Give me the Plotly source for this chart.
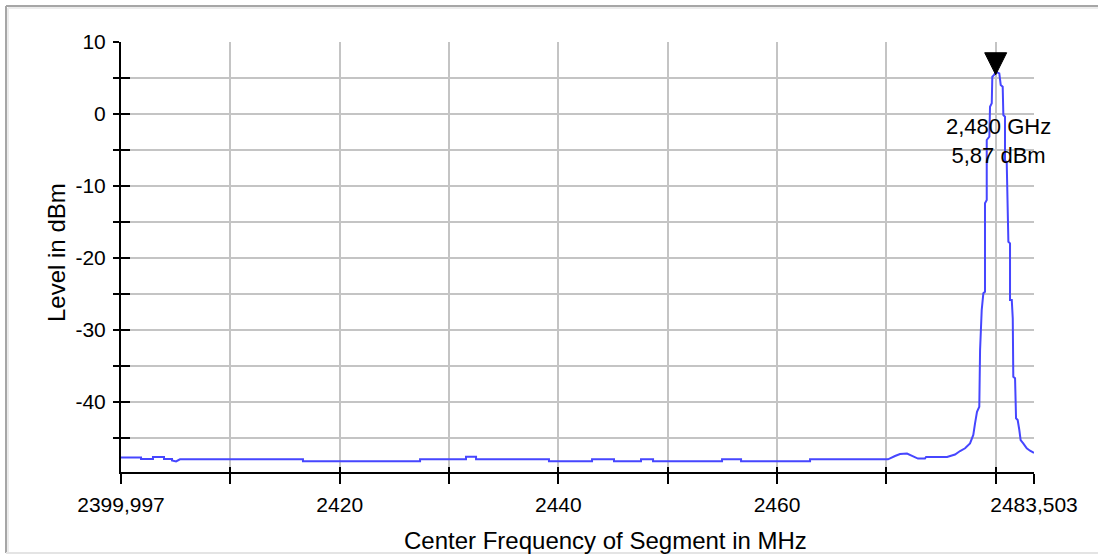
import plotly.graph_objects as go

# ---------------- data ----------------
freq_mhz = [
    2399.997, 2401.83, 2401.83, 2402.92, 2402.92, 2403.93, 2403.93, 2404.66, 2404.66, 2405.03,
    2405.39, 2416.64, 2416.64, 2427.35, 2427.35, 2431.55, 2431.55, 2432.47, 2432.47, 2439.14,
    2439.14, 2443.08, 2443.08, 2445.09, 2445.09, 2447.56, 2447.56, 2448.66, 2448.66, 2454.97,
    2454.97, 2456.71, 2456.71, 2463.02, 2463.02, 2470.15, 2470.79, 2471.25, 2471.89, 2472.35,
    2472.89, 2473.53, 2473.63, 2475.55, 2476.28, 2476.74, 2477.20, 2477.65, 2477.95, 2478.11,
    2478.29, 2478.50, 2478.57, 2478.72, 2478.87, 2479.02, 2479.02, 2479.18, 2479.18, 2479.42,
    2479.48, 2479.64, 2479.69, 2479.85, 2480.00, 2480.33, 2480.46, 2480.64, 2480.70, 2480.85,
    2480.85, 2481.01, 2481.16, 2481.31, 2481.31, 2481.47, 2481.56, 2481.61, 2481.77, 2481.86,
    2482.01, 2482.16, 2482.28, 2482.52, 2482.84, 2483.14, 2483.503,
]
level_dbm = [
    -47.71, -47.71, -47.92, -47.92, -47.64, -47.64, -47.92, -47.92, -48.13, -48.26,
    -47.96, -47.96, -48.24, -48.24, -47.96, -47.96, -47.60, -47.60, -47.96, -47.96,
    -48.24, -48.24, -47.96, -47.96, -48.24, -48.24, -47.96, -47.96, -48.24, -48.24,
    -47.96, -47.96, -48.24, -48.24, -47.96, -47.96, -47.50, -47.22, -47.15, -47.43,
    -47.85, -47.85, -47.64, -47.64, -47.29, -46.81, -46.43, -45.74, -44.58, -42.96,
    -41.35, -40.65, -32.78, -27.22, -24.90, -24.68, -12.40, -11.94, -3.61, -3.15,
    1.01, 1.49, 5.18, 5.42, 5.87, 5.65, 4.03, 3.79, -0.14, -0.38,
    -6.39, -6.85, -17.74, -17.96, -25.83, -25.83, -28.38, -36.49, -36.71, -42.26,
    -42.50, -43.89, -45.28, -45.74, -46.43, -46.76, -47.08,
]

marker_freq_mhz = 2480.0
marker_level_dbm = 5.87

x_range = [2399.997, 2483.503]
y_range = [-49.72, 10]

x_tick_vals = [2399.997, 2410, 2420, 2430, 2440, 2450, 2460, 2470, 2480, 2483.503]
x_tick_text = ["2399,997", "", "2420", "", "2440", "", "2460", "", "", "2483,503"]
y_tick_vals = [10, 5, 0, -5, -10, -15, -20, -25, -30, -35, -40, -45]
y_tick_text = ["10", "", "0", "", "-10", "", "-20", "", "-30", "", "-40", ""]

x_title = "Center Frequency of Segment in MHz"
y_title = "Level in dBm"
marker_text = "{} GHz<br>{} dBm".format(
    f"{marker_freq_mhz / 1000:.3f}".replace(".", ","),
    f"{marker_level_dbm:.2f}".replace(".", ","),
)

# ---------------- layout geometry ----------------
W, H = 1098, 554
ML, MR, MT, MB = 121, 64, 42, 82
PW, PH = W - ML - MR, H - MT - MB


def pxx(px):
    return (px - ML) / PW


def pxy(py):
    return 1 - (py - MT) / PH


FONT = "Liberation Sans, Arial, sans-serif"
FS_TICK = 21
FS_TITLE = 24
FS_LABEL = 22

fig = go.Figure()
fig.add_trace(go.Scatter(
    x=freq_mhz, y=level_dbm, mode="lines",
    line=dict(color="#4646ff", width=2),
    hoverinfo="x+y", showlegend=False,
))
# helper trace for overlay axes (inside tick marks)
fig.add_trace(go.Scatter(
    x=[marker_freq_mhz], y=[marker_level_dbm], mode="markers",
    marker=dict(opacity=0), xaxis="x2", yaxis="y2",
    hoverinfo="skip", showlegend=False,
))

grid = "#c4c4c4"
fig.update_layout(
    width=W, height=H,
    margin=dict(l=ML, r=MR, t=MT, b=MB, autoexpand=False),
    paper_bgcolor="white", plot_bgcolor="white",
    font=dict(family=FONT, size=FS_TICK, color="black"),
    xaxis=dict(
        range=x_range, tickmode="array", tickvals=x_tick_vals, ticktext=x_tick_text,
        showgrid=True, gridcolor=grid, gridwidth=2,
        showline=True, linecolor="black", linewidth=2,
        ticks="outside", ticklen=10, tickwidth=2, tickcolor="black",
        zeroline=False, tickfont=dict(size=FS_TICK), ticklabelstandoff=3,
    ),
    yaxis=dict(
        range=y_range, tickmode="array", tickvals=y_tick_vals, ticktext=y_tick_text,
        showgrid=True, gridcolor=grid, gridwidth=2,
        showline=True, linecolor="black", linewidth=2,
        ticks="outside", ticklen=6, tickwidth=2, tickcolor="black",
        zeroline=False, tickfont=dict(size=FS_TICK), ticklabelstandoff=3,
    ),
    xaxis2=dict(
        range=x_range, overlaying="x", side="bottom", anchor="y2",
        tickmode="array", tickvals=x_tick_vals, showticklabels=False,
        showgrid=False, zeroline=False, showline=False,
        ticks="inside", ticklen=5, tickwidth=2, tickcolor="black",
    ),
    yaxis2=dict(
        range=y_range, overlaying="y", side="left", anchor="x2",
        tickmode="array", tickvals=y_tick_vals, showticklabels=False,
        showgrid=False, zeroline=False, showline=False,
        ticks="inside", ticklen=9, tickwidth=2, tickcolor="black",
    ),
)

# axis titles
fig.add_annotation(
    text=x_title, xref="paper", yref="paper", x=pxx(605), y=pxy(540),
    xanchor="center", yanchor="middle", showarrow=False, font=dict(size=FS_TITLE),
)
fig.add_annotation(
    text=y_title, xref="paper", yref="paper", x=pxx(56), y=pxy(253),
    xanchor="center", yanchor="middle", showarrow=False, textangle=-90,
    font=dict(size=FS_TITLE),
)

# marker label
fig.add_annotation(
    text=marker_text, x=marker_freq_mhz, y=marker_level_dbm, xref="x", yref="y",
    xanchor="center", yanchor="top", yshift=-40, xshift=3, showarrow=False,
    font=dict(size=FS_LABEL), align="center",
)

# marker triangle anchored at the peak
fig.add_shape(
    type="path", xref="x", yref="y", xsizemode="pixel", ysizemode="pixel",
    xanchor=marker_freq_mhz, yanchor=marker_level_dbm,
    path="M 0,-3 L -11,19 L 11,19 Z",
    fillcolor="black", line=dict(color="black", width=1),
)

# outer frame
fig.add_shape(type="line", xref="paper", yref="paper",
              x0=pxx(6), x1=pxx(1100), y0=pxy(6), y1=pxy(6),
              line=dict(color="#a6a6a6", width=2))
fig.add_shape(type="line", xref="paper", yref="paper",
              x0=pxx(6), x1=pxx(6), y0=pxy(6), y1=pxy(553),
              line=dict(color="#a6a6a6", width=2))
fig.add_shape(type="line", xref="paper", yref="paper",
              x0=pxx(8), x1=pxx(1100), y0=pxy(8), y1=pxy(8),
              line=dict(color="#ececec", width=2))
fig.add_shape(type="line", xref="paper", yref="paper",
              x0=pxx(8), x1=pxx(8), y0=pxy(8), y1=pxy(553),
              line=dict(color="#ececec", width=2))
fig.add_shape(type="line", xref="paper", yref="paper",
              x0=pxx(6), x1=pxx(1100), y0=pxy(553), y1=pxy(553),
              line=dict(color="#e4e4e4", width=2))

fig.write_html("out.html")
